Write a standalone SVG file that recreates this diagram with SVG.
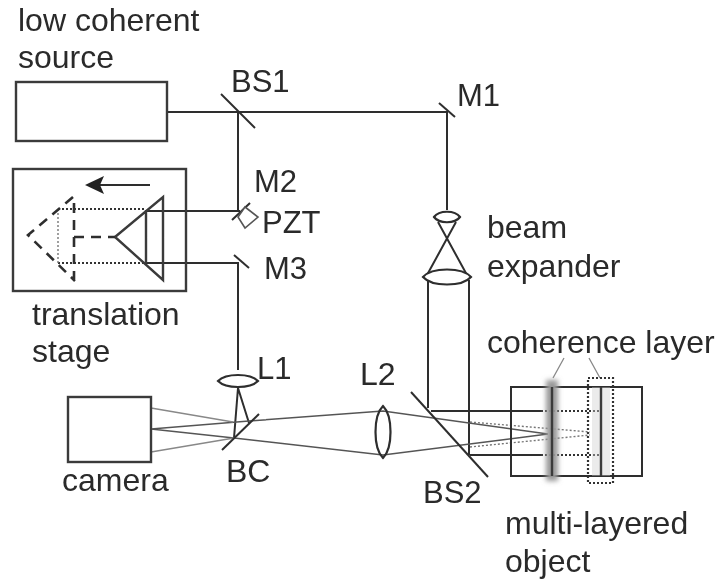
<svg xmlns="http://www.w3.org/2000/svg" width="719" height="580" viewBox="0 0 719 580">
<style>
text{font-family:"Liberation Sans",Arial,sans-serif;font-size:32px;fill:#2a2a2a}
.c{font-size:31px}
.k{fill:none;stroke:#2e2e2e;stroke-width:2}
.b{fill:none;stroke:#3a3a3a;stroke-width:2.4}
.g{fill:none;stroke:#555;stroke-width:1.5}
.h{fill:none;stroke:#888;stroke-width:1.3}
.dot{fill:none;stroke:#333;stroke-width:2.2;stroke-dasharray:2 2}
.gd{fill:none;stroke:#777;stroke-width:1.4;stroke-dasharray:2 2}
.dash{fill:none;stroke:#2e2e2e;stroke-width:2.6;stroke-dasharray:10 7}
.lens{fill:#fff;stroke:#2e2e2e;stroke-width:2.2}
</style>
<defs>
<filter id="soft" x="-5%" y="-5%" width="110%" height="110%"><feGaussianBlur stdDeviation="0.45"/></filter>
<filter id="fog" x="-100%" y="-10%" width="300%" height="120%"><feGaussianBlur stdDeviation="2.5"/></filter>
</defs>
<rect width="719" height="580" fill="#fff"/>
<g filter="url(#soft)">
<g id="connectors">
<path class="k" d="M167 112H447V210M238 112V212M146 211H240M146 263H238V370"/>
<path class="k" d="M238 388L234 438M238 388L249 423"/>
<path class="k" d="M428 280V408M469 280V455M431 411H541M470 455H541"/>
<path class="dot" d="M58 209H146M58 263H146M541 411H602M541 455H602"/>
<path class="gd" d="M58 209V263M470 422L590 432M470 447L590 435"/>
<path class="g" d="M151 429L249 421L383 411L548 434M151 429L234 438L383 455L548 434"/>
<path class="h" d="M151 408L233 422M151 452L234 438M564 358L553 378M589 358L600 378"/>
</g>
<g id="source"><rect class="b" x="16" y="82" width="151" height="59" fill="#fff"/><text x="18" y="31">low coherent</text><text x="18" y="68">source</text></g>
<g id="BS1"><path class="k" d="M221 94L255 128"/><text class="c" x="231" y="92">BS1</text></g>
<g id="M1"><path class="k" d="M439 103L455 117"/><text class="c" x="457" y="106">M1</text></g>
<g id="stage">
<rect class="b" x="13" y="169" width="173" height="122"/>
<path d="M150 185H100" class="k" stroke-width="2.4"/><path d="M85 185L104 176L100 185L104 194Z" fill="#222"/>
<path class="b" d="M115 237L163 197V280ZM146 210V263"/>
<path class="dash" d="M74 281V197M74 237H115M73 197L28 235L75 281"/>
<text x="32" y="325">translation</text><text x="32" y="362">stage</text>
</g>
<g id="M2"><path class="k" d="M232 220L250 203"/><text class="c" x="254" y="192">M2</text></g>
<g id="PZT"><path d="M245 207L258 217L245 228L238 217Z" fill="#fff" stroke="#555" stroke-width="1.6"/><text class="c" x="262" y="233">PZT</text></g>
<g id="M3"><path class="k" d="M234 255L249 268"/><text class="c" x="264" y="279">M3</text></g>
<g id="beam-expander">
<path class="k" d="M438 222L467 275M456 222L427 275"/>
<path class="lens" d="M434 217C439 210 455 210 460 217C455 224 439 224 434 217Z"/>
<path class="lens" d="M423 277C432 267 462 267 471 277C462 287 432 287 423 277Z"/>
<text x="487" y="238">beam</text><text x="487" y="277">expander</text>
</g>
<g id="L1"><path class="lens" d="M218 381C226 373 250 373 258 381C250 389 226 389 218 381Z"/><text class="c" x="257" y="379">L1</text></g>
<g id="camera"><rect class="b" x="68" y="397" width="83" height="65"/><text x="62" y="491">camera</text></g>
<g id="BC"><path class="k" d="M222 450L259 414"/><text x="226" y="482">BC</text></g>
<g id="L2"><path class="lens" d="M383 406C393 416 393 448 383 458C373 448 373 416 383 406Z" style="fill:none"/><text x="360" y="385">L2</text></g>
<g id="BS2"><path class="k" d="M411 392L488 477" stroke-width="2.4"/><text class="c" x="423" y="503">BS2</text></g>
<g id="object">
<rect class="k" x="511" y="387" width="131" height="89"/>
<rect x="546" y="380" width="12" height="101" fill="#999" filter="url(#fog)"/>
<rect x="592" y="387" width="18" height="89" fill="#ccc" opacity=".4"/>
<path class="b" d="M552 387V476M601 387V476" stroke-width="2.6"/>
<rect class="dot" x="588" y="378" width="25" height="105"/>
<text x="487" y="353">coherence layer</text>
<text x="505" y="534">multi-layered</text><text x="505" y="572">object</text>
</g>
</g>
</svg>
